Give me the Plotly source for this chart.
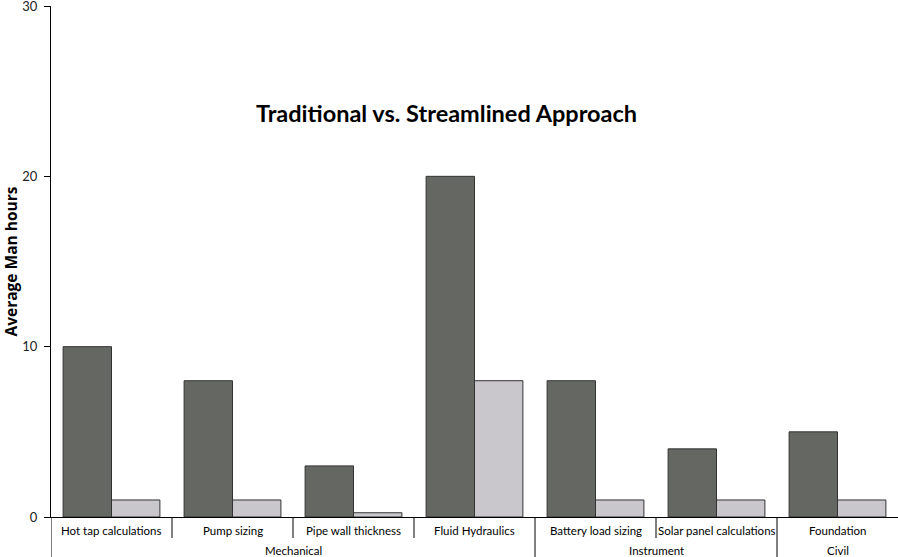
import plotly.graph_objects as go

categories = ["Hot tap calculations", "Pump sizing", "Pipe wall thickness", "Fluid Hydraulics",
              "Battery load sizing", "Solar panel calculations", "Foundation"]
traditional = [10, 8, 3, 20, 8, 4, 5]
streamlined = [1, 1, 0.25, 8, 1, 1, 1]
groups = [("Mechanical", 0, 3), ("Instrument", 4, 5), ("Civil", 6, 6)]
y_ticks = [0, 10, 20, 30]

font_family = "Lato, Open Sans, sans-serif"

fig = go.Figure()
fig.add_trace(go.Bar(x=categories, y=traditional, name="Traditional",
                     marker=dict(color="#656763", line=dict(color="#333333", width=1))))
fig.add_trace(go.Bar(x=categories, y=streamlined, name="Streamlined",
                     marker=dict(color="#c9c7cb", line=dict(color="#333333", width=1))))

T, B = 6, 40
H = 557.0 - T - B
shapes = []
annotations = []
for i, c in enumerate(categories):
    annotations.append(dict(x=i, y=-13 / H, xref="x", yref="paper", text=c, showarrow=False,
                            font=dict(size=11.5, color="#000"), xanchor="center", yanchor="middle"))
group_edges = set()
for name, a, b in groups:
    group_edges.add(a - 0.5)
    group_edges.add(b + 0.5)
    annotations.append(dict(x=(a + b) / 2, y=-33 / H, xref="x", yref="paper", text=name,
                            showarrow=False, font=dict(size=11.5, color="#000"),
                            xanchor="center", yanchor="middle"))
for i in range(len(categories) + 1):
    xe = i - 0.5
    if xe in group_edges:
        if xe >= len(categories) - 0.5:
            continue
        y0 = -40 / H
    else:
        y0 = -21 / H
    shapes.append(dict(type="line", xref="x", yref="paper", x0=xe, x1=xe, y0=0, y1=y0,
                       line=dict(color="#000", width=1)))

annotations.append(dict(x=(446 - 51) / 847, y=(517 - 113) / H, xref="paper", yref="paper",
                        text="<b>Traditional vs. Streamlined Approach</b>", showarrow=False,
                        font=dict(size=23.5, color="#000", family=font_family),
                        xanchor="center", yanchor="middle"))

fig.update_layout(
    width=898, height=557,
    margin=dict(l=51, r=0, t=T, b=B, autoexpand=False),
    paper_bgcolor="white", plot_bgcolor="white",
    barmode="group", bargap=0.2, bargroupgap=0,
    showlegend=False,
    font=dict(family=font_family, color="#000"),
    shapes=shapes, annotations=annotations,
    xaxis=dict(range=[-0.5, len(categories) - 0.5], showticklabels=False, ticks="",
               automargin=False,
               showline=True, linecolor="#000", linewidth=1, showgrid=False, zeroline=False),
    yaxis=dict(range=[0, 30], tickvals=y_ticks, ticks="outside", ticklen=6, tickcolor="#000",
               ticklabeloverflow="allow", automargin=False, ticklabelstandoff=4,
               showline=True, linecolor="#000", linewidth=1, showgrid=False, zeroline=False,
               tickfont=dict(size=13, color="#222"),
               title=dict(text="<b>Average Man hours</b>",
                          font=dict(size=15.5, color="#000", family="Open Sans, sans-serif"),
                          standoff=8)),
)

fig.write_html("out.html")
